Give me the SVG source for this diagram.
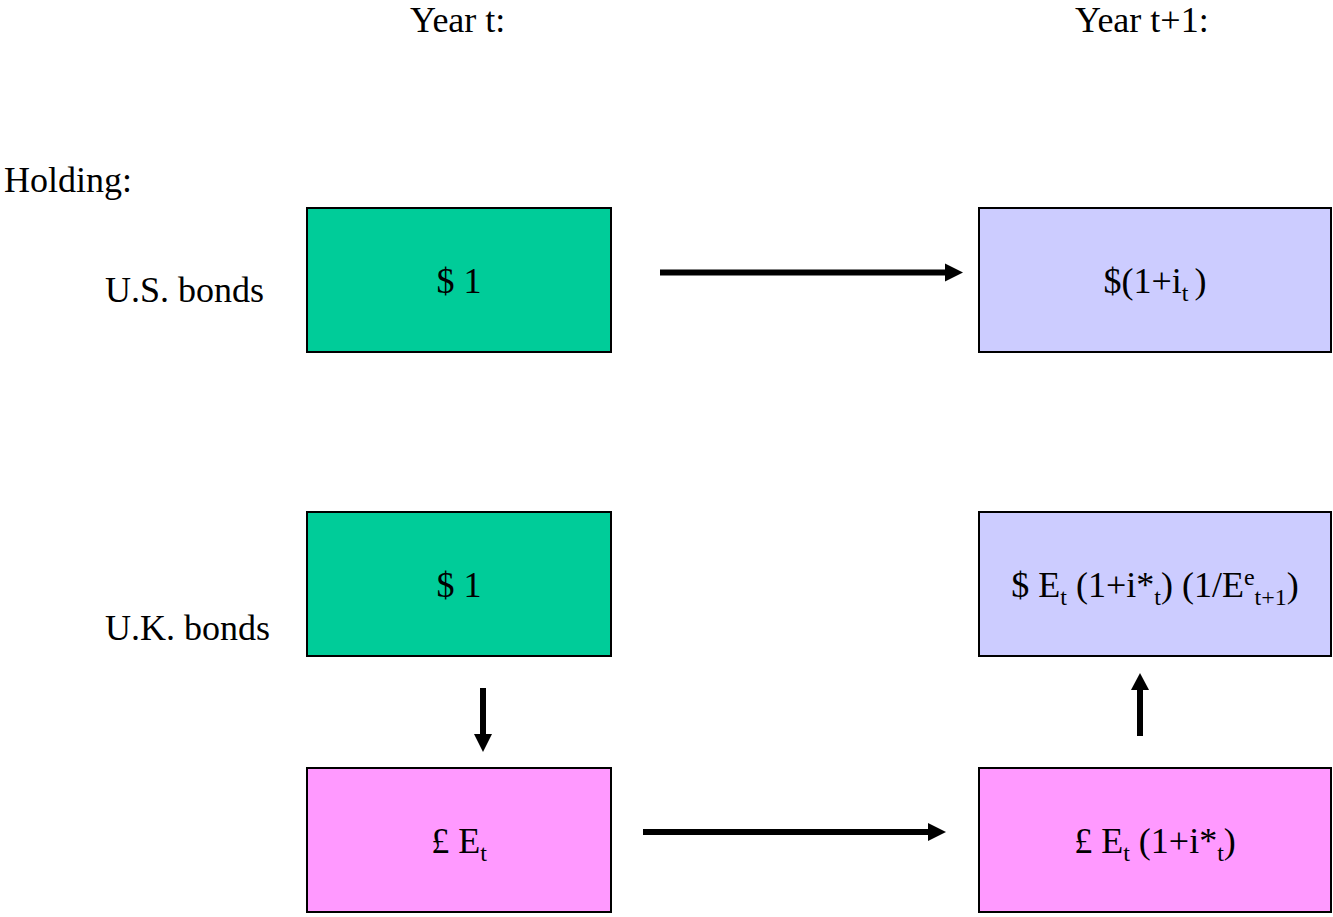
<svg xmlns="http://www.w3.org/2000/svg" width="1333" height="917" viewBox="0 0 1333 917">
<defs>
<style>
text{font-family:"Liberation Serif","Times New Roman",serif;font-size:36px;fill:#000}
.c{text-anchor:middle}
.s{font-size:24px}
.box{stroke:#000;stroke-width:2}
.g{fill:#00CC99}.b{fill:#CCCCFF}.p{fill:#FF99FF}
.ln{stroke:#000;stroke-width:6;fill:none}
.hd{fill:#000}
</style>
</defs>
<rect width="1333" height="917" fill="#fff"/>
<g id="labels">
<text x="410" y="32">Year t:</text>
<text x="1075" y="32">Year t+1:</text>
<text x="4" y="192">Holding:</text>
<text x="105" y="302">U.S. bonds</text>
<text x="105" y="640">U.K. bonds</text>
</g>
<g id="us-t">
<rect class="box g" x="307" y="208" width="304" height="144"/>
<text class="c" x="459" y="293">$ 1</text>
</g>
<g id="us-t1">
<rect class="box b" x="979" y="208" width="352" height="144"/>
<text class="c" x="1155" y="293">$(1+i<tspan class="s" dy="8">t </tspan><tspan dy="-8">)</tspan></text>
</g>
<g id="uk-t">
<rect class="box g" x="307" y="512" width="304" height="144"/>
<text class="c" x="459" y="597">$ 1</text>
</g>
<g id="uk-t1-dollar">
<rect class="box b" x="979" y="512" width="352" height="144"/>
<text class="c" x="1155" y="597">$ E<tspan class="s" dy="8">t</tspan><tspan dy="-8"> (1+i*</tspan><tspan class="s" dy="8">t</tspan><tspan dy="-8">) (1/E</tspan><tspan class="s" dy="-12">e</tspan><tspan class="s" dy="20">t+1</tspan><tspan dy="-8">)</tspan></text>
</g>
<g id="uk-t-pound">
<rect class="box p" x="307" y="768" width="304" height="144"/>
<text class="c" x="459" y="853">£ E<tspan class="s" dy="8">t</tspan></text>
</g>
<g id="uk-t1-pound">
<rect class="box p" x="979" y="768" width="352" height="144"/>
<text class="c" x="1155" y="853">£ E<tspan class="s" dy="8">t</tspan><tspan dy="-8"> (1+i*</tspan><tspan class="s" dy="8">t</tspan><tspan dy="-8">)</tspan></text>
</g>
<g id="connectors">
<line class="ln" x1="660" y1="272.5" x2="946" y2="272.5"/>
<polygon class="hd" points="945,263.5 963,272.5 945,281.5"/>
<line class="ln" x1="643" y1="832" x2="929" y2="832"/>
<polygon class="hd" points="928,823 946,832 928,841"/>
<line class="ln" x1="483" y1="688" x2="483" y2="735"/>
<polygon class="hd" points="474,734 492,734 483,752"/>
<line class="ln" x1="1140" y1="736" x2="1140" y2="689"/>
<polygon class="hd" points="1131,690 1149,690 1140,673"/>
</g>
</svg>
